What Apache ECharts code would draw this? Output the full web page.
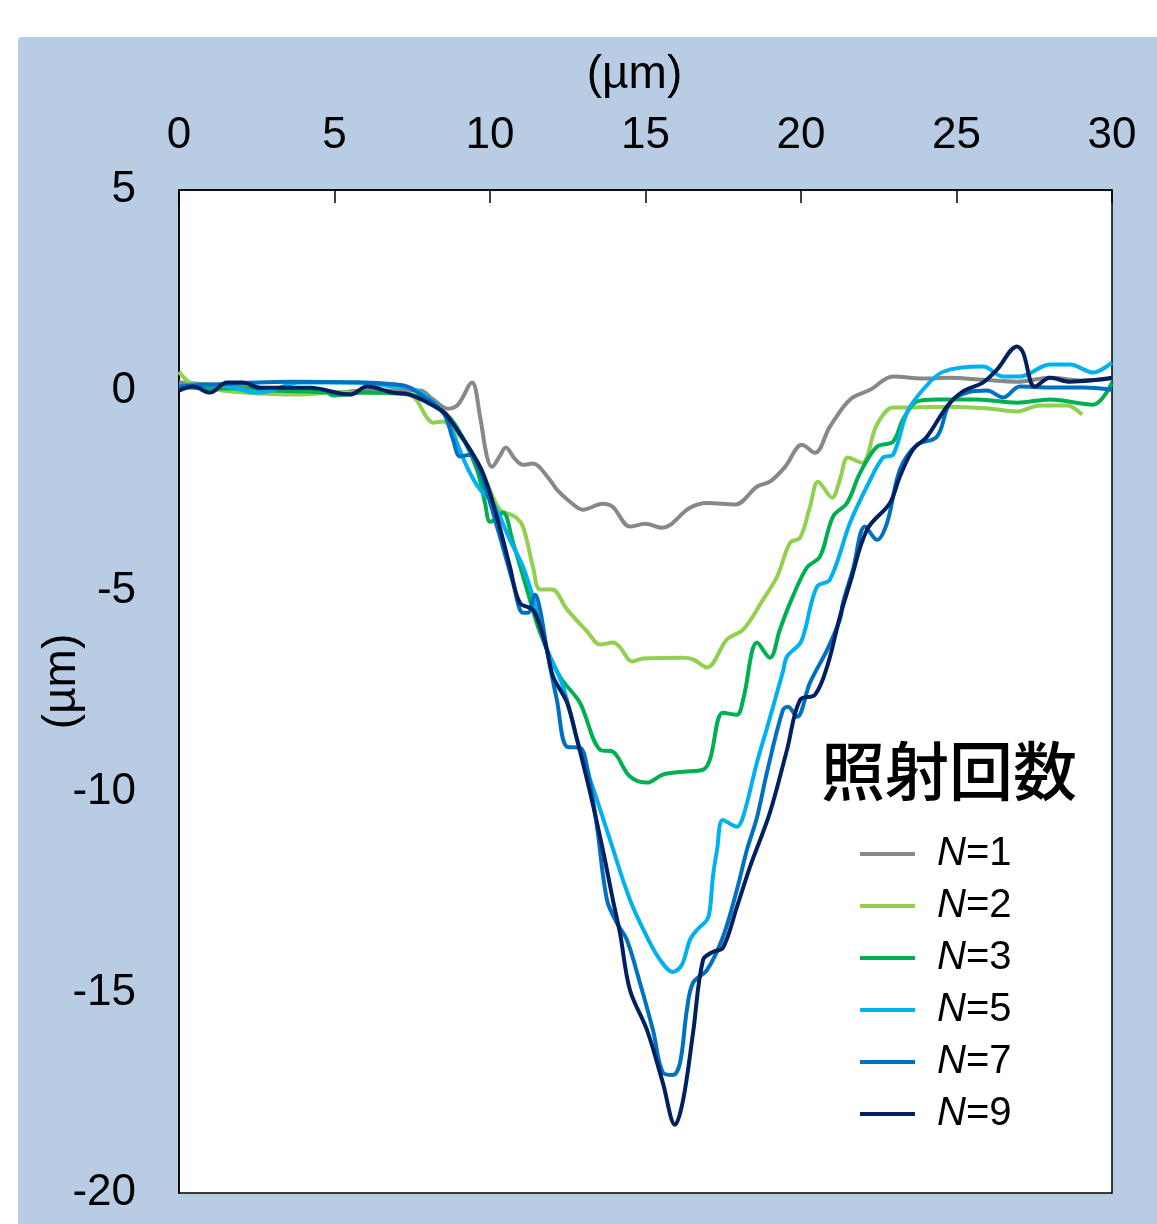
<!DOCTYPE html>
<html>
<head>
<meta charset="utf-8">
<script src="https://cdn.jsdelivr.net/npm/echarts@6/dist/echarts.min.js"></script>
<style>
  html, body { margin: 0; padding: 0; background: #ffffff; }
  #chart { width: 1157px; height: 1224px; }
</style>
</head>
<body>
<div id="chart"></div>
<script>
// Depth profiles (µm) across the irradiated spot, one array of [position, depth] per shot count
const seriesNames = ['1', '2', '3', '5', '7', '9'];
const seriesColors = ['#888888', '#92d050', '#00b050', '#00b0f0', '#0070c0', '#002060'];

const profileN1 = [[0,0.2],[1,0.15],[2,0.1],[3,0.05],[4,0.02],[5,-0.05],[6,0],[7,0],[7.75,0],[8.17,-0.22],[8.65,-0.45],[8.97,-0.35],[9.42,0.2],[9.68,-0.65],[9.9,-1.64],[10.06,-1.9],[10.3,-1.65],[10.51,-1.42],[10.8,-1.7],[11.06,-1.85],[11.38,-1.82],[11.9,-2.2],[12.15,-2.47],[12.57,-2.77],[12.99,-2.97],[13.63,-2.82],[13.95,-2.9],[14.5,-3.39],[14.99,-3.32],[15.53,-3.42],[16.43,-2.92],[16.98,-2.8],[17.88,-2.84],[18.59,-2.39],[19.0,-2.27],[19.49,-1.9],[20.03,-1.35],[20.45,-1.55],[20.93,-0.9],[21.58,-0.22],[22.22,0.02],[22.96,0.35],[23.92,0.3],[24.79,0.32],[25.85,0.27],[26.95,0.22],[28.01,0.32],[29.07,0.25],[30,0.3]];

const profileN2 = [[0,0.47],[0.35,0.2],[1,0.05],[2.06,-0.05],[3.89,-0.1],[5,-0.05],[6.88,-0.07],[7.52,-0.15],[7.97,-0.67],[8.17,-0.8],[8.49,-0.77],[8.81,-0.97],[9.26,-1.35],[9.9,-2.3],[10.32,-2.97],[10.8,-3.14],[11.06,-3.39],[11.38,-4.39],[11.61,-4.96],[11.99,-4.96],[12.48,-5.46],[13.12,-6.0],[13.54,-6.33],[13.95,-6.28],[14.18,-6.4],[14.57,-6.75],[14.92,-6.68],[16.21,-6.66],[16.53,-6.7],[16.98,-6.9],[17.62,-6.2],[18.14,-5.96],[18.78,-5.21],[19.23,-4.64],[19.65,-3.79],[19.97,-3.67],[20.29,-2.89],[20.55,-2.27],[21.0,-2.67],[21.25,-2.22],[21.51,-1.67],[21.96,-1.8],[22.44,-0.85],[22.96,-0.42],[23.41,-0.42],[24.79,-0.4],[26.08,-0.45],[26.95,-0.52],[27.68,-0.37],[28.55,-0.37],[29.04,-0.6]];

const profileN3 = [[0,0.1],[1,0.05],[2,0.05],[3,0.0],[4.76,-0.05],[4.95,-0.12],[6,-0.05],[7.43,-0.1],[8.49,-0.52],[9.0,-1.0],[9.58,-1.97],[9.84,-2.8],[10.0,-3.27],[10.2,-3.2],[10.42,-3.04],[10.74,-3.79],[11.19,-4.96],[11.61,-6.03],[12.25,-7.13],[12.89,-7.78],[13.54,-8.95],[13.95,-9.0],[14.5,-9.62],[15.05,-9.77],[15.56,-9.57],[16.21,-9.5],[16.85,-9.45],[17.07,-9.2],[17.49,-8.03],[17.94,-8.08],[18.14,-7.7],[18.59,-6.28],[19.0,-6.66],[19.32,-5.96],[19.65,-5.29],[20.19,-4.41],[20.61,-4.14],[21.03,-3.14],[21.48,-2.8],[21.9,-2.05],[22.44,-1.4],[22.96,-1.27],[23.28,-0.72],[23.73,-0.27],[24.37,-0.22],[25.66,-0.22],[26.95,-0.3],[28.01,-0.22],[29.39,-0.35],[30,0.2]];

const profileN5 = [[0,0.1],[0.45,0.15],[1.5,0.1],[2.6,-0.05],[3.89,0.2],[5.82,0.2],[6.88,0.1],[7.5,0.05],[8.49,-0.52],[8.81,-1.05],[9.26,-1.9],[9.68,-2.47],[10.1,-2.8],[10.64,-3.72],[11.06,-4.39],[11.4,-5.2],[11.61,-5.9],[11.83,-6.46],[12.35,-7.38],[12.8,-8.7],[13.44,-10.2],[13.86,-11.2],[14.5,-12.69],[15.05,-13.62],[15.47,-14.19],[15.88,-14.49],[16.17,-14.31],[16.43,-13.69],[16.66,-13.44],[16.98,-13.19],[17.07,-12.94],[17.17,-12.1],[17.3,-11.45],[17.49,-10.7],[17.94,-10.87],[18.14,-10.62],[18.59,-9.25],[18.91,-8.4],[19.42,-7.0],[19.55,-6.63],[19.97,-6.3],[20.13,-5.96],[20.51,-4.89],[20.93,-4.71],[21.58,-3.29],[22.12,-2.39],[22.64,-1.67],[22.96,-1.6],[23.41,-0.55],[23.92,0.02],[24.57,0.47],[25.85,0.6],[26.5,0.35],[27.04,0.35],[28.01,0.65],[28.65,0.65],[29.39,0.45],[30,0.7]];

const profileN7 = [[0,0.1],[1,0.15],[3.67,0.22],[5.82,0.2],[7.01,0.15],[7.43,0.07],[8.49,-0.55],[8.81,-1.22],[9.04,-1.64],[9.36,-1.6],[9.68,-2.02],[10.32,-3.64],[10.74,-4.79],[11.06,-5.54],[11.22,-5.54],[11.45,-5.09],[11.61,-5.46],[11.83,-6.46],[12.15,-7.71],[12.48,-8.88],[12.89,-8.9],[13.12,-9.38],[13.44,-10.87],[13.76,-12.69],[14.08,-13.27],[14.4,-13.69],[14.82,-14.76],[15.24,-15.94],[15.56,-17.0],[15.88,-17.06],[16.11,-16.76],[16.33,-15.44],[16.53,-14.76],[16.98,-14.44],[17.49,-13.62],[17.94,-12.44],[18.26,-11.45],[18.59,-10.62],[18.91,-9.5],[19.42,-7.96],[19.58,-7.88],[19.87,-8.13],[20.29,-7.28],[20.84,-6.46],[21.25,-5.71],[21.35,-5.29],[21.67,-4.46],[22.06,-3.39],[22.44,-3.72],[22.77,-3.29],[23.18,-1.97],[23.73,-1.35],[24.37,-1.15],[24.79,-0.3],[25.34,-0.05],[25.98,0.0],[26.5,-0.17],[27.04,0.1],[28.01,0.08],[29.07,0.08],[30,0.02]];

const profileN9 = [[0,0],[0.45,0.1],[1.0,-0.05],[1.54,0.2],[2.06,0.2],[2.6,0.07],[4.21,0.07],[5.5,-0.1],[6.05,0.1],[6.88,-0.05],[7.43,-0.1],[8.49,-0.52],[8.71,-0.72],[9.36,-1.47],[9.77,-2.05],[10.22,-3.14],[10.64,-4.39],[10.96,-5.29],[11.38,-5.46],[11.61,-5.88],[11.83,-6.46],[12.03,-7.13],[12.48,-7.78],[12.8,-8.7],[13.22,-10.02],[13.63,-11.45],[13.95,-12.69],[14.18,-13.52],[14.5,-14.94],[15.05,-15.94],[15.56,-17.26],[15.95,-18.3],[16.21,-17.68],[16.53,-16.0],[16.85,-14.19],[17.17,-13.99],[17.49,-13.89],[17.94,-12.87],[18.36,-11.87],[19.0,-10.52],[19.55,-8.95],[19.97,-7.71],[20.45,-7.58],[20.84,-6.88],[21.25,-5.64],[21.58,-4.79],[22.12,-3.47],[22.86,-2.8],[23.18,-2.14],[23.6,-1.47],[24.05,-1.15],[24.69,-0.4],[25.21,-0.02],[25.85,0.2],[26.3,0.52],[26.95,1.1],[27.14,0.95],[27.52,0.1],[28.01,0.32],[28.65,0.22],[29.52,0.27],[30,0.32]];

const profiles = [profileN1, profileN2, profileN3, profileN5, profileN7, profileN9];

// Axis ranges and tick step
const xRange = [0, 30];
const yRange = [-20, 5];
const tickStep = 5;
const axisUnit = '(µm)';
const legendTitle = '照射回数';

const latin = '"Liberation Sans", Arial, sans-serif';
const cjk = '"Noto Sans CJK JP", "Noto Sans CJK SC", sans-serif';

const chart = echarts.init(document.getElementById('chart'), null, { renderer: 'canvas' });

chart.setOption({
  backgroundColor: '#ffffff',
  animation: false,
  graphic: [{
    type: 'rect',
    z: -10,
    silent: true,
    shape: { x: 18, y: 37, width: 1160, height: 1200, r: 4 },
    style: { fill: '#b8cce4' }
  }],
  title: {
    text: legendTitle,
    left: 816,
    top: 734,
    textStyle: { fontFamily: cjk, fontSize: 64, fontWeight: 500, color: '#000' }
  },
  legend: {
    orient: 'vertical',
    left: 855,
    top: 827,
    itemWidth: 55,
    itemHeight: 4,
    itemGap: 8,
    icon: 'rect',
    data: seriesNames.map(n => 'N=' + n),
    formatter: name => '{n|N}=' + name.slice(2),
    textStyle: {
      fontFamily: latin,
      fontSize: 40,
      lineHeight: 44,
      color: '#000',
      rich: {
        n: { fontFamily: latin, fontSize: 40, lineHeight: 44, fontStyle: 'italic', color: '#000', padding: [0, 0, 0, 17] }
      }
    }
  },
  grid: {
    left: 179,
    top: 190,
    right: 45,
    bottom: 31,
    show: true,
    backgroundColor: '#ffffff',
    borderColor: '#000000',
    borderWidth: 1.5
  },
  xAxis: {
    type: 'value',
    position: 'top',
    min: xRange[0],
    max: xRange[1],
    interval: tickStep,
    name: axisUnit,
    nameLocation: 'middle',
    nameGap: 92,
    nameTextStyle: { fontFamily: latin, fontSize: 46, color: '#000', padding: [0, 22, 0, 0] },
    axisLine: { show: true, onZero: false, lineStyle: { color: '#000', width: 1.5 } },
    axisTick: { show: true, inside: true, length: 13, lineStyle: { color: '#000', width: 1.5 } },
    axisLabel: { fontFamily: latin, fontSize: 44, color: '#000', margin: 32 },
    splitLine: { show: false }
  },
  yAxis: {
    type: 'value',
    min: yRange[0],
    max: yRange[1],
    interval: tickStep,
    name: axisUnit,
    nameLocation: 'middle',
    nameRotate: 90,
    nameGap: 94,
    nameMoveOverlap: false,
    nameTextStyle: { fontFamily: latin, fontSize: 46, color: '#000', padding: [0, 0, 0, 20] },
    axisLine: { show: true, onZero: false, lineStyle: { color: '#000', width: 1.5 } },
    axisTick: { show: false },
    axisLabel: { fontFamily: latin, fontSize: 44, color: '#000', margin: 43 },
    splitLine: { show: false }
  },
  series: profiles.map((data, i) => ({
    name: 'N=' + seriesNames[i],
    type: 'line',
    data: data,
    smooth: 0.35,
    showSymbol: false,
    symbol: 'none',
    clip: true,
    lineStyle: { color: seriesColors[i], width: 4 },
    itemStyle: { color: seriesColors[i] }
  }))
});
</script>
</body>
</html>
